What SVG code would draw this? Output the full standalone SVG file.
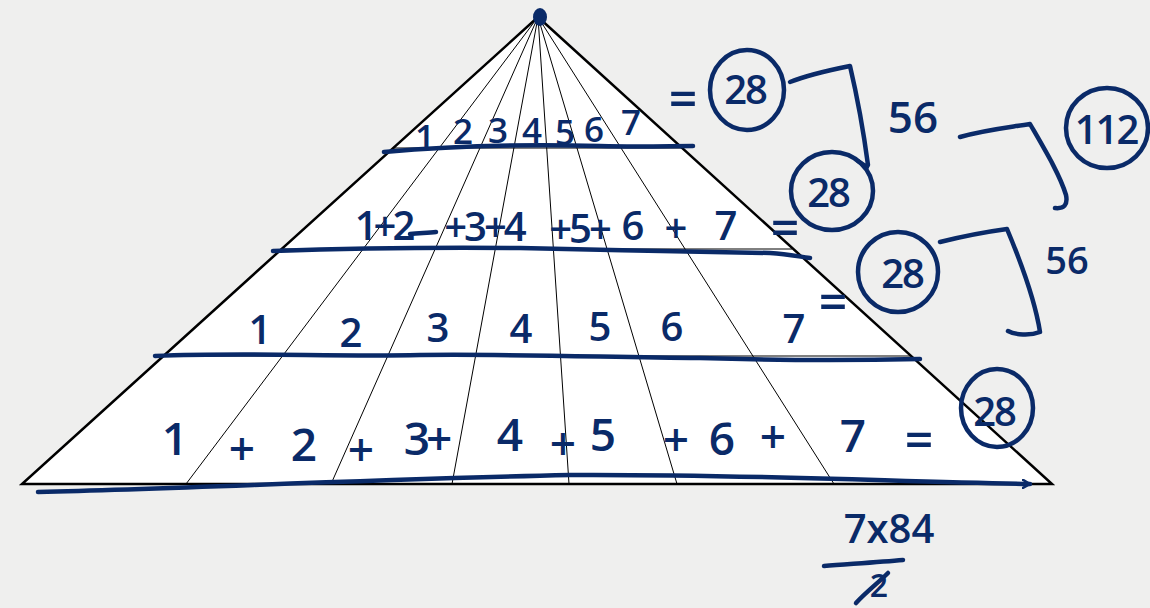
<svg xmlns="http://www.w3.org/2000/svg" width="1150" height="608" viewBox="0 0 1150 608">
<style>
.ink{fill:none;stroke:#0a2a68;stroke-width:4.5;stroke-linecap:round;stroke-linejoin:round}
.t{font-family:"Open Sans","Liberation Sans",sans-serif;font-weight:600;fill:#0a2a68;text-anchor:middle}
.r1{font-size:35px}
.r2{font-size:40px}
.r3{font-size:40px}
.r4{font-size:46px}
.eq{font-size:50px}
.c{font-size:40px;letter-spacing:-2px}
.thin{stroke:#000;stroke-width:1;fill:none}
</style>
<defs>
<marker id="ah" markerWidth="10" markerHeight="10" refX="8" refY="5" orient="auto" markerUnits="userSpaceOnUse">
<path d="M1,1 L8,5 L1,9" fill="none" stroke="#0a2a68" stroke-width="2.5" stroke-linecap="round"/>
</marker>
</defs>
<rect width="1150" height="608" fill="#efefee"/>
<g id="pyramid">
<polygon points="538,17 22,484 1052,484" fill="#fff" stroke="#000" stroke-width="2.5" stroke-linejoin="miter"/>
<line class="thin" x1="394" y1="148" x2="681" y2="148"/>
<line class="thin" x1="283" y1="249" x2="792" y2="249"/>
<line class="thin" x1="165" y1="356" x2="910" y2="356"/>
<line class="thin" x1="538" y1="17" x2="186" y2="484"/>
<line class="thin" x1="538" y1="17" x2="331" y2="484"/>
<line class="thin" x1="538" y1="17" x2="452" y2="484"/>
<line class="thin" x1="538" y1="17" x2="569" y2="484"/>
<line class="thin" x1="538" y1="17" x2="677" y2="484"/>
<line class="thin" x1="538" y1="17" x2="834" y2="484"/>
<ellipse cx="540" cy="17" rx="7" ry="9" fill="#0a2a68"/>
</g>
<g id="connectors">
<path class="ink" d="M384,152 C450,146 520,144 600,146 C640,147 670,146 693,146"/>
<path class="ink" d="M273,251 C330,249 420,247 520,248 C600,250 700,252 770,253 C790,254 800,257 810,258"/>
<path class="ink" d="M155,356 C250,352 330,357 420,355 C520,354 600,357 700,358 C800,361 870,360 920,359"/>
<path class="ink" d="M38,492 C200,488 350,480 570,475 C750,474 900,482 1030,484" marker-end="url(#ah)"/>
<path class="ink" d="M410,234 C420,233 428,233 436,232"/>
<path class="ink" d="M790,82 C810,74 830,70 850,66 C858,100 864,135 868,165 M858,161 L867,167"/>
<path class="ink" d="M960,137 C985,130 1005,128 1030,124 C1045,150 1060,175 1066,195 C1068,205 1064,209 1055,208"/>
<path class="ink" d="M940,242 C960,237 985,232 1007,229 C1020,260 1035,300 1040,332 C1030,336 1015,335 1008,331"/>
<path class="ink" d="M824,566 C850,564 880,562 903,560"/>
<path class="ink" d="M856,603 C866,592 878,583 888,573"/>
</g>
<g id="row1">
<text class="t r1" x="425" y="150">1</text>
<text class="t r1" x="463" y="144">2</text>
<text class="t r1" x="498" y="143">3</text>
<text class="t r1" x="532" y="143">4</text>
<text class="t r1" x="565" y="145">5</text>
<text class="t r1" x="594" y="142">6</text>
<text class="t r1" x="631" y="135">7</text>
<text class="t eq" x="683" y="117">=</text>
</g>
<g id="row2">
<text class="t r2" x="383" y="240" style="letter-spacing:-4px">1+2</text>
<text class="t r2" x="484" y="241" style="letter-spacing:-3px">+3+4</text>
<text class="t r2" x="579" y="243" style="letter-spacing:-3px">+5+</text>
<text class="t r2" x="633" y="240">6</text>
<text class="t r2" x="676" y="242">+</text>
<text class="t r2" x="726" y="240">7</text>
<text class="t eq" x="785" y="246">=</text>
</g>
<g id="row3">
<text class="t r3" x="260" y="344">1</text>
<text class="t r3" x="351" y="347">2</text>
<text class="t r3" x="438" y="342">3</text>
<text class="t r3" x="521" y="343">4</text>
<text class="t r3" x="600" y="341">5</text>
<text class="t r3" x="672" y="341">6</text>
<text class="t r3" x="794" y="343">7</text>
<text class="t eq" x="833" y="320">=</text>
</g>
<g id="row4">
<text class="t r4" x="175" y="455">1</text>
<text class="t r4" x="242" y="465">+</text>
<text class="t r4" x="304" y="461">2</text>
<text class="t r4" x="361" y="466">+</text>
<text class="t r4" x="426" y="455" style="letter-spacing:-4px">3+</text>
<text class="t r4" x="510" y="451">4</text>
<text class="t r4" x="563" y="460">+</text>
<text class="t r4" x="603" y="451">5</text>
<text class="t r4" x="676" y="456">+</text>
<text class="t r4" x="722" y="455">6</text>
<text class="t r4" x="773" y="453">+</text>
<text class="t r4" x="853" y="452">7</text>
<text class="t eq" x="919" y="458">=</text>
</g>
<g id="circle1">
<ellipse class="ink" cx="747" cy="90" rx="37" ry="40"/>
<text class="t c" x="745" y="104">28</text>
</g>
<g id="circle2">
<ellipse class="ink" cx="832" cy="191" rx="41" ry="39"/>
<text class="t c" x="828" y="207">28</text>
</g>
<g id="circle3">
<ellipse class="ink" cx="898" cy="272" rx="40" ry="40"/>
<text class="t c" x="902" y="288">28</text>
</g>
<g id="circle4">
<ellipse class="ink" cx="997" cy="408" rx="36" ry="39"/>
<text class="t c" x="994" y="426">28</text>
</g>
<g id="circle5">
<ellipse class="ink" cx="1107" cy="128" rx="41" ry="40"/>
<text class="t c" x="1106" y="144">112</text>
</g>
<g id="label56a"><text class="t" x="913" y="133" style="font-size:44px">56</text></g>
<g id="label56b"><text class="t" x="1067" y="274" style="font-size:38px">56</text></g>
<g id="calc">
<text class="t" x="889" y="543" style="font-size:40px">7x84</text>
<text class="t" x="879" y="597" style="font-size:32px">2</text>
</g>
</svg>
